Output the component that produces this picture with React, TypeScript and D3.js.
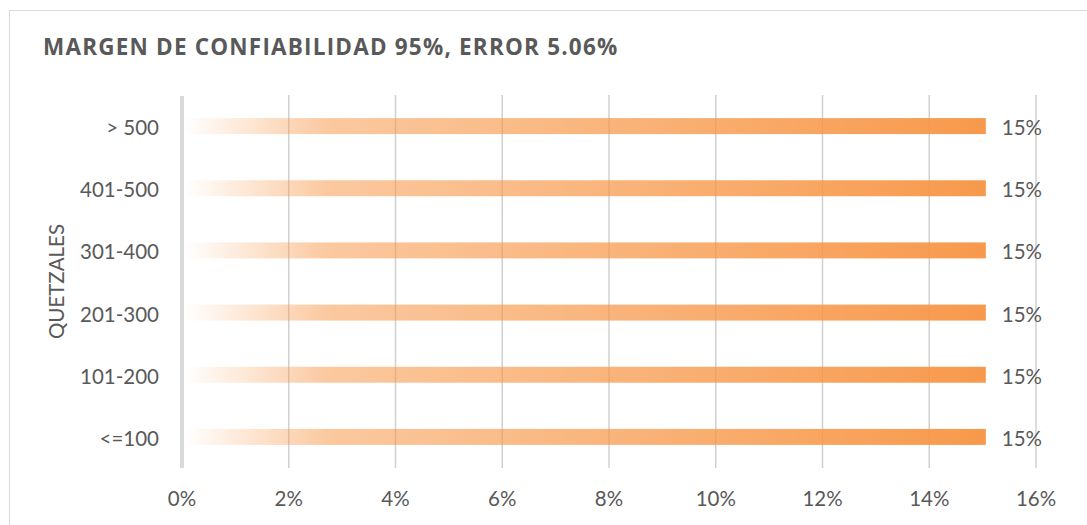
import React from "react";
import * as d3 from "d3";

const categories = ["> 500", "401-500", "301-400", "201-300", "101-200", "<=100"];
const values = [0.1506, 0.1506, 0.1506, 0.1506, 0.1506, 0.1506];
const xTicks = [0, 0.02, 0.04, 0.06, 0.08, 0.1, 0.12, 0.14, 0.16];
const title = "MARGEN DE CONFIABILIDAD 95%, ERROR 5.06%";
const yAxisTitle = "QUETZALES";

export default function App() {
  const W = 1087;
  const H = 525;
  const left = 182;
  const right = 1036;
  const top = 95;
  const bottom = 468;

  const x = d3.scaleLinear().domain([0, 0.16]).range([left, right]);
  const y = d3
    .scaleBand<string>()
    .domain(categories)
    .range([top, bottom])
    .paddingInner(0.743)
    .paddingOuter(0.3715);
  const fmt = d3.format(".0%");
  const textColor = "#595959";
  const labelFont = "Lato, 'Open Sans', sans-serif";

  return (
    <svg
      width={W}
      height={H}
      style={{ position: "absolute", left: 0, top: 0, background: "#fff" }}
    >
      <defs>
        <linearGradient id="barGrad" x1="0" x2="1" y1="0" y2="0">
          <stop offset="0" stopColor="#f79646" stopOpacity={0} />
          <stop offset="0.18" stopColor="#f79646" stopOpacity={0.52} />
          <stop offset="1" stopColor="#f79646" stopOpacity={0.97} />
        </linearGradient>
      </defs>
      <rect x={9.5} y={10.5} width={W + 20} height={H + 20} fill="#fff" stroke="#d9d9d9" strokeWidth={1} />
      <text
        x={43}
        y={55}
        fontFamily="'Open Sans', sans-serif"
        fontWeight={700}
        fontSize={22.5}
        letterSpacing={1.2}
        fill={textColor}
      >
        {title}
      </text>
      {xTicks.slice(1).map((t) => (
        <line key={t} x1={x(t)} x2={x(t)} y1={top} y2={bottom} stroke="#d0d0d0" strokeWidth={1.5} />
      ))}
      <line x1={x(0)} x2={x(0)} y1={top + 1} y2={bottom} stroke="#d9d9d9" strokeWidth={4} />
      {categories.map((c, i) => (
        <rect
          key={c}
          x={x(0) + 2}
          y={y(c)!}
          width={x(values[i]) - x(0) - 2}
          height={y.bandwidth()}
          fill="url(#barGrad)"
        />
      ))}
      {categories.map((c, i) => (
        <text
          key={c}
          x={x(values[i]) + 16}
          y={y(c)! + y.bandwidth() / 2 + 1}
          dominantBaseline="central"
          fontFamily={labelFont}
          fontSize={20.5}
          fill={textColor}
        >
          {fmt(values[i])}
        </text>
      ))}
      {categories.map((c) => (
        <text
          key={c}
          x={159}
          y={y(c)! + y.bandwidth() / 2 + 1}
          dominantBaseline="central"
          textAnchor="end"
          fontFamily={labelFont}
          fontSize={20.5}
          fill={textColor}
        >
          {c}
        </text>
      ))}
      {xTicks.map((t) => (
        <text
          key={t}
          x={x(t)}
          y={506}
          textAnchor="middle"
          fontFamily={labelFont}
          fontSize={20.5}
          fill={textColor}
        >
          {fmt(t)}
        </text>
      ))}
      <text
        transform={`translate(64, ${(top + bottom) / 2}) rotate(-90)`}
        textAnchor="middle"
        fontFamily={labelFont}
        fontSize={20.5}
        fill={textColor}
      >
        {yAxisTitle}
      </text>
    </svg>
  );
}
